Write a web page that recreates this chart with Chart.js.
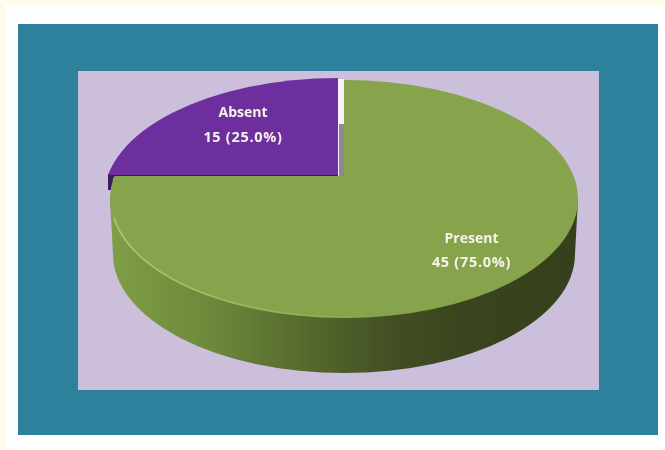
<!DOCTYPE html>
<html>
<head>
<meta charset="utf-8">
<title>Attendance</title>
<script src="https://cdn.jsdelivr.net/npm/chart.js@4"></script>
<style>
    html, body { margin: 0; padding: 0; background: #fffbea; overflow: hidden; }
    #sheet { position: absolute; left: 5px; top: 5px; width: 660px; height: 445px; background: #fff; }
    #frame { position: absolute; left: 18px; top: 24px; width: 640px; height: 411px; background: #2e819c; }
    #plot { position: absolute; left: 78px; top: 71px; width: 521px; height: 319px; background: #cbbfdb; }
    #wrap { position: absolute; left: 0; top: 0; width: 665px; height: 450px; }
</style>
</head>
<body>
<div id="sheet"></div>
<div id="frame"></div>
<div id="plot"></div>
<div id="wrap"><canvas id="pieChart" width="665" height="450"></canvas></div>
<script>
const categories = ['Present', 'Absent'];
const counts = [45, 15];
const sliceColors = ['#87a44d', '#6e2f9e'];

// Disc seen at a tilt, with the slices meeting above its middle line
const RADIUS = 234;
const DISC_X = 344;
const DISC_Y = 199;
const TILT = 119 / 234;
const DEPTH = 55;
const SEAM_Y = 176;
const PULL_X = -6;
const PULL_Y = -2;

const labelSpots = [[471.5, 251], [243, 125.5]];

// Paints one slice on the tilted disc, limited to a band of the canvas
function paintSlice(ctx, arc, box, shiftX, shiftY, turn) {
    ctx.save();
    ctx.beginPath();
    ctx.rect(box[0], box[1], box[2], box[3]);
    ctx.clip();
    ctx.translate(DISC_X + shiftX, DISC_Y + shiftY);
    ctx.scale(1, TILT);
    ctx.rotate(turn);
    ctx.translate(-arc.x, -arc.y);
    arc.draw(ctx);
    ctx.restore();
}

const tiltedPie = {
    id: 'tiltedPie',
    beforeDatasetsDraw(chart) {
        const ctx = chart.ctx;
        const arcs = chart.getDatasetMeta(0).data;
        const r = arcs[0].outerRadius;
        const ry = r * TILT;

        // Side wall of the disc, dark toward the right
        const wall = ctx.createLinearGradient(DISC_X - r, 0, DISC_X + r, 0);
        wall.addColorStop(0, '#7f9e47');
        wall.addColorStop(0.2, '#6f8a3c');
        wall.addColorStop(0.42, '#566a2d');
        wall.addColorStop(0.6, '#424f23');
        wall.addColorStop(0.75, '#39451e');
        wall.addColorStop(1, '#35401c');
        ctx.fillStyle = wall;
        ctx.beginPath();
        ctx.moveTo(DISC_X - r, DISC_Y);
        ctx.lineTo(DISC_X - r + 3, DISC_Y + DEPTH);
        ctx.ellipse(DISC_X, DISC_Y + DEPTH, r - 3, ry, 0, Math.PI, 0, true);
        ctx.lineTo(DISC_X + r, DISC_Y);
        ctx.closePath();
        ctx.fill();

        // Gap left by the pulled slice: pale at the back, shaded lower down
        ctx.fillStyle = '#f6f3f8';
        ctx.fillRect(DISC_X - 7, SEAM_Y - 97, 7, 97);
        ctx.fillStyle = '#8d8798';
        ctx.fillRect(DISC_X - 5, SEAM_Y - 52, 5, 52);

        // Under edge of the pulled slice
        ctx.fillStyle = '#3d1a5c';
        ctx.fillRect(DISC_X - r - 2, SEAM_Y - 2, r - 4, 4);
        ctx.fillRect(DISC_X - r - 2, SEAM_Y, 5, 14);

        // Present, plus a turned copy that closes the strip between seam and middle line
        paintSlice(ctx, arcs[0], [0, 0, chart.width, chart.height], 0, 0, 0);
        paintSlice(ctx, arcs[0], [0, SEAM_Y, DISC_X, DISC_Y - SEAM_Y + 1], 0, 0, -Math.PI / 2);
        paintSlice(ctx, arcs[1], [0, 0, chart.width, SEAM_Y - 1], PULL_X, PULL_Y, 0);

        // Light rim on the near edge of the top face
        const rim = ctx.createLinearGradient(DISC_X - r, 0, DISC_X + 40, 0);
        rim.addColorStop(0, 'rgba(190, 214, 130, 0.75)');
        rim.addColorStop(1, 'rgba(190, 214, 130, 0)');
        ctx.strokeStyle = rim;
        ctx.lineWidth = 1.5;
        ctx.beginPath();
        ctx.ellipse(DISC_X, DISC_Y, r - 1, ry - 1, 0, Math.PI * 0.95, Math.PI * 0.42, true);
        ctx.stroke();

        // Slice captions
        ctx.fillStyle = '#f7f4ea';
        ctx.textAlign = 'center';
        ctx.textBaseline = 'middle';
        const total = counts.reduce(function (a, b) { return a + b; }, 0);
        categories.forEach(function (name, i) {
            const pct = (counts[i] / total * 100).toFixed(1);
            ctx.font = 'bold 14px "Open Sans", sans-serif';
            ctx.letterSpacing = '0px';
            ctx.fillText(name, labelSpots[i][0], labelSpots[i][1] - 12);
            ctx.font = 'bold 14.5px "Open Sans", sans-serif';
            ctx.letterSpacing = '0.7px';
            ctx.fillText(counts[i] + ' (' + pct + '%)', labelSpots[i][0], labelSpots[i][1] + 12);
        });
        return false;
    }
};

new Chart(document.getElementById('pieChart'), {
    type: 'pie',
    data: {
        labels: categories,
        datasets: [{
            data: counts,
            backgroundColor: sliceColors,
            borderWidth: 0,
            radius: RADIUS
        }]
    },
    options: {
        responsive: false,
        animation: false,
        plugins: { legend: { display: false }, tooltip: { enabled: false } }
    },
    plugins: [tiltedPie]
});
</script>
</body>
</html>
